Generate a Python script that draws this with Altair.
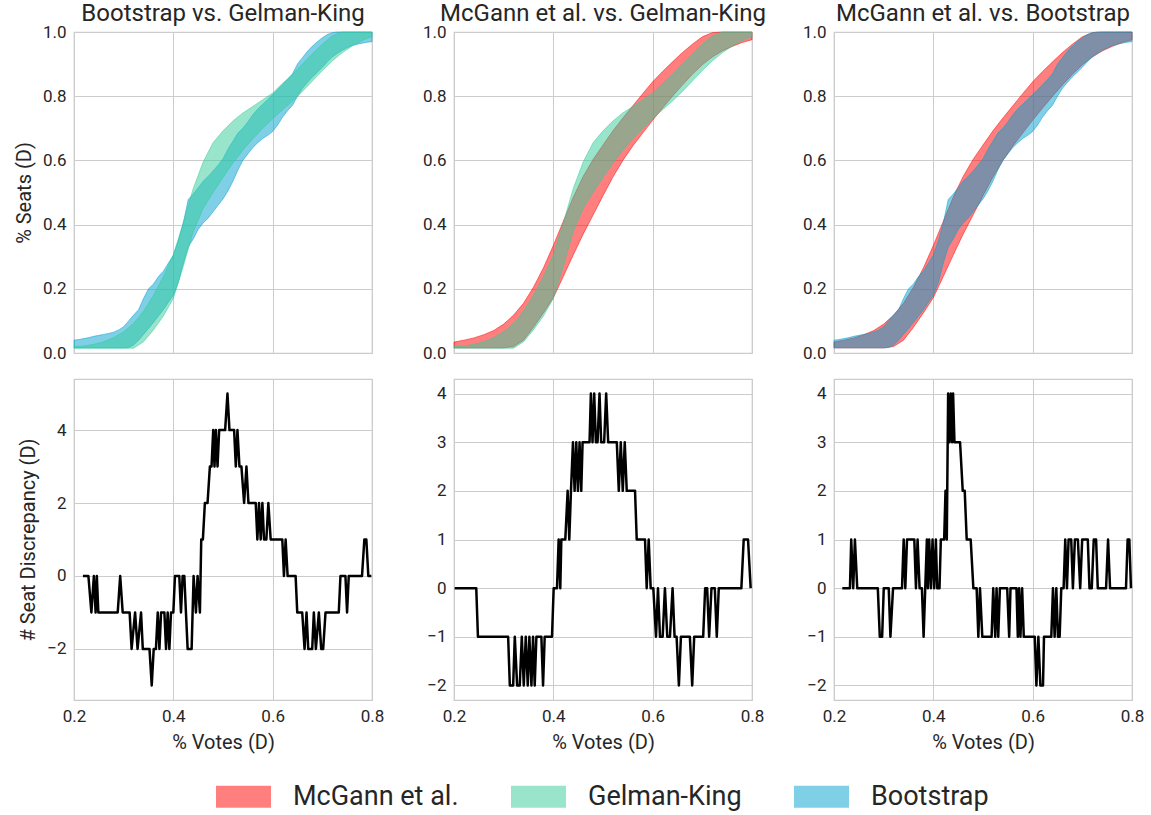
import altair as alt
import pandas as pd

FONT = "Roboto"
TEXT = "#262626"
GRID = "#cccccc"

# ---- seat-vote bands -------------------------------------------------------
models = ["McGann et al.", "Gelman-King", "Bootstrap"]
model_colors = ["#ff0000", "#33cc99", "#00a0d0"]

grid_votes = [0.20, 0.22, 0.24, 0.26, 0.28, 0.30, 0.32, 0.34, 0.36, 0.38,
              0.40, 0.42, 0.44, 0.46, 0.48, 0.50, 0.52, 0.54, 0.56, 0.58,
              0.60, 0.62, 0.64, 0.66, 0.68, 0.70, 0.72, 0.74, 0.76, 0.78, 0.80]

mcgann_high = [0.034, 0.040, 0.047, 0.057, 0.070, 0.090, 0.118, 0.155, 0.205, 0.265,
               0.335, 0.410, 0.485, 0.550, 0.603, 0.648, 0.692, 0.732, 0.770, 0.808,
               0.845, 0.877, 0.907, 0.936, 0.962, 0.985, 0.998, 1.0, 1.0, 1.0, 1.0]
mcgann_low = [0.016, 0.016, 0.016, 0.016, 0.016, 0.016, 0.020, 0.040, 0.080, 0.125,
              0.172, 0.238, 0.305, 0.370, 0.430, 0.490, 0.548, 0.600, 0.645, 0.685,
              0.725, 0.763, 0.800, 0.835, 0.868, 0.898, 0.922, 0.941, 0.955, 0.967, 0.976]

gk_high = [0.020, 0.022, 0.027, 0.035, 0.048, 0.066, 0.092, 0.130, 0.180, 0.238,
           0.305, 0.405, 0.512, 0.595, 0.655, 0.692, 0.723, 0.748, 0.768, 0.789,
           0.810, 0.840, 0.868, 0.900, 0.932, 0.962, 0.988, 1.0, 1.0, 1.0, 1.0]
gk_low = [0.015, 0.015, 0.015, 0.015, 0.015, 0.015, 0.015, 0.035, 0.072, 0.115,
          0.170, 0.270, 0.378, 0.450, 0.500, 0.547, 0.592, 0.632, 0.667, 0.700,
          0.730, 0.758, 0.785, 0.815, 0.847, 0.880, 0.910, 0.935, 0.956, 0.973, 0.986]

boot_votes = [0.20, 0.21, 0.22, 0.23, 0.24, 0.25, 0.26, 0.27, 0.28, 0.29,
              0.30, 0.31, 0.32, 0.33, 0.34, 0.35, 0.36, 0.37, 0.38, 0.39,
              0.40, 0.41, 0.42, 0.43, 0.44, 0.45, 0.46, 0.47, 0.48, 0.49,
              0.50, 0.51, 0.52, 0.53, 0.54, 0.55, 0.56, 0.57, 0.58, 0.59,
              0.60, 0.61, 0.62, 0.63, 0.64, 0.65, 0.66, 0.67, 0.68, 0.69,
              0.70, 0.71, 0.72, 0.73, 0.74, 0.75, 0.76, 0.77, 0.78, 0.79, 0.80]
boot_high = [0.040, 0.042, 0.045, 0.048, 0.052, 0.055, 0.058, 0.061, 0.065, 0.072,
             0.082, 0.100, 0.118, 0.135, 0.170, 0.200, 0.215, 0.238, 0.255, 0.280,
             0.305, 0.350, 0.405, 0.478, 0.495, 0.515, 0.535, 0.550, 0.567, 0.585,
             0.605, 0.635, 0.660, 0.685, 0.700, 0.720, 0.742, 0.760, 0.775, 0.790,
             0.805, 0.820, 0.836, 0.852, 0.870, 0.900, 0.920, 0.940, 0.956, 0.970,
             0.982, 0.992, 0.998, 1.0, 1.0, 1.0, 1.0, 1.0, 1.0, 1.0, 1.0]
boot_low = [0.016, 0.016, 0.016, 0.016, 0.016, 0.016, 0.016, 0.016, 0.016, 0.016,
            0.016, 0.017, 0.025, 0.040, 0.058, 0.076, 0.095, 0.115, 0.135, 0.158,
            0.180, 0.220, 0.280, 0.330, 0.355, 0.385, 0.405, 0.420, 0.440, 0.460,
            0.480, 0.505, 0.535, 0.570, 0.600, 0.620, 0.640, 0.655, 0.668, 0.678,
            0.690, 0.710, 0.735, 0.755, 0.772, 0.800, 0.825, 0.843, 0.860, 0.875,
            0.890, 0.907, 0.922, 0.933, 0.943, 0.951, 0.958, 0.962, 0.965, 0.968, 0.970]

bands = {
    "McGann et al.": (grid_votes, mcgann_low, mcgann_high),
    "Gelman-King": (grid_votes, gk_low, gk_high),
    "Bootstrap": (boot_votes, boot_low, boot_high),
}

# ---- seat discrepancy (first model minus second) --------------------------
d1_votes = [0.218, 0.229, 0.235, 0.240, 0.2435, 0.246, 0.249, 0.288, 0.293, 0.298,
            0.312, 0.316, 0.323, 0.328, 0.335, 0.3385, 0.352, 0.3565, 0.3605, 0.365,
            0.3686, 0.372, 0.3753, 0.382, 0.3853, 0.3886, 0.392, 0.3953, 0.400, 0.4033,
            0.412, 0.4154, 0.4187, 0.4221, 0.4254, 0.4288, 0.4368, 0.4408, 0.4455, 0.4488,
            0.4535, 0.4562, 0.4595, 0.4635, 0.4689, 0.4736, 0.4769, 0.4803, 0.4829, 0.4856,
            0.489, 0.4923, 0.5043, 0.509, 0.513, 0.5224, 0.5258, 0.5291, 0.5331, 0.5371,
            0.5425, 0.5472, 0.5512, 0.5659, 0.5692, 0.5726, 0.5759, 0.5793, 0.5826, 0.5873,
            0.5913, 0.596, 0.6194, 0.6227, 0.6261, 0.6301, 0.6462, 0.6495, 0.6595, 0.6642,
            0.6682, 0.6716, 0.6796, 0.6829, 0.687, 0.693, 0.6977, 0.7017, 0.7064, 0.7331,
            0.7365, 0.7465, 0.7498, 0.7532, 0.7799, 0.7846, 0.7886, 0.7926, 0.7987]
d1_seats = [0, 0, -1, 0, -1, 0, -1, -1, 0, -1,
            -1, -2, -1, -2, -1, -2, -2, -3, -2, -2,
            -1, -2, -1, -1, -2, -1, -2, -1, -1, 0,
            0, -1, 0, 0, -1, -2, -2, 0, -1, 0,
            -1, 1, 1, 2, 2, 3, 3, 4, 3, 4,
            3, 4, 4, 5, 4, 4, 3, 4, 3, 3,
            2, 3, 2, 2, 1, 2, 1, 2, 1, 1,
            2, 1, 1, 0, 1, 0, 0, -1, -1, -2,
            -1, -2, -2, -1, -2, -1, -2, -2, -1, -1,
            0, 0, -1, 0, 0, 1, 1, 0, 0]

d2_votes = [0.2013, 0.2448, 0.2482, 0.309, 0.3124, 0.3191, 0.3224, 0.3271, 0.3324, 0.3365,
            0.3405, 0.3445, 0.3485, 0.3518, 0.3559, 0.3592, 0.3625, 0.3659, 0.3759, 0.3793,
            0.3826, 0.3973, 0.4007, 0.4074, 0.4107, 0.414, 0.4161, 0.4241, 0.4288, 0.4321,
            0.4355, 0.4395, 0.4428, 0.4462, 0.4495, 0.4528, 0.4562, 0.4589, 0.4729, 0.4756,
            0.4789, 0.4823, 0.4856, 0.489, 0.493, 0.4963, 0.5023, 0.5064, 0.5104, 0.5278,
            0.5318, 0.5358, 0.5398, 0.5438, 0.5478, 0.5645, 0.5679, 0.5846, 0.588, 0.592,
            0.596, 0.6013, 0.6067, 0.6107, 0.6147, 0.6201, 0.6247, 0.6294, 0.6348, 0.6401,
            0.6441, 0.6482, 0.6528, 0.6569, 0.6749, 0.6796, 0.6836, 0.7017, 0.7057, 0.7097,
            0.7137, 0.7184, 0.7251, 0.7291, 0.7331, 0.7786, 0.7833, 0.792, 0.7973]
d2_seats = [0, 0, -1, -1, -2, -2, -1, -2, -2, -1,
            -2, -1, -2, -1, -2, -1, -2, -1, -1, -2,
            -1, -1, 0, 0, 1, 0, 1, 1, 2, 1,
            2, 3, 2, 3, 2, 3, 2, 3, 3, 4,
            3, 4, 3, 3, 4, 3, 3, 4, 3, 3,
            2, 3, 2, 3, 2, 2, 1, 1, 0, 1,
            0, 0, -1, 0, -1, -1, 0, -1, -1, 0,
            -1, -1, -2, -1, -1, -2, -1, -1, 0, 0,
            -1, 0, 0, -1, 0, 0, 1, 1, 0]

d3_votes = [0.2167, 0.2321, 0.2347, 0.2387, 0.2421, 0.2468, 0.2882, 0.2922, 0.2969, 0.3002,
            0.3102, 0.3136, 0.3189, 0.3369, 0.3403, 0.3436, 0.347, 0.3617, 0.365, 0.3683,
            0.3723, 0.377, 0.3804, 0.3837, 0.387, 0.389, 0.3917, 0.3951, 0.3984, 0.4017,
            0.4051, 0.4078, 0.4124, 0.4151, 0.4218, 0.4245, 0.4271, 0.4298, 0.4325, 0.4351,
            0.4378, 0.4398, 0.4425, 0.4538, 0.4592, 0.4632, 0.4672, 0.4752, 0.4806, 0.4872,
            0.4906, 0.4939, 0.4986, 0.5173, 0.5206, 0.5246, 0.5273, 0.5307, 0.534, 0.5487,
            0.5527, 0.5554, 0.5674, 0.5701, 0.5727, 0.5754, 0.5788, 0.5821, 0.6042, 0.6075,
            0.6115, 0.6155, 0.6208, 0.6228, 0.6375, 0.6409, 0.6442, 0.6476, 0.6509, 0.6543,
            0.6576, 0.6623, 0.6656, 0.669, 0.6723, 0.6776, 0.681, 0.685, 0.691, 0.6957,
            0.6997, 0.711, 0.7144, 0.719, 0.723, 0.7277, 0.7311, 0.7478, 0.7518, 0.7558,
            0.7879, 0.7912, 0.7946, 0.7979]
d3_seats = [0, 0, 1, 0, 1, 0, 0, -1, -1, 0,
            0, -1, 0, 0, 1, 0, 1, 1, 0, 1,
            0, 0, -1, 0, 1, 0, 1, 0, 1, 0,
            1, 0, 0, 1, 1, 2, 1, 4, 3, 4,
            3, 4, 3, 3, 2, 2, 1, 1, 0, 0,
            -1, 0, -1, -1, 0, -1, 0, -1, 0, 0,
            -1, 0, 0, -1, 0, -1, 0, -1, -1, -2,
            -1, -2, -2, -1, -1, 0, -1, 0, -1, -1,
            0, 0, 1, 0, 1, 1, 0, 1, 1, 0,
            1, 1, 0, 0, 1, 1, 0, 0, 1, 0,
            0, 1, 1, 0]

panels = [
    ("Bootstrap vs. Gelman-King", "Bootstrap", "Gelman-King", d1_votes, d1_seats,
     [-3.4, 5.4], [-2, 0, 2, 4]),
    ("McGann et al. vs. Gelman-King", "McGann et al.", "Gelman-King", d2_votes, d2_seats,
     [-2.3, 4.3], [-2, -1, 0, 1, 2, 3, 4]),
    ("McGann et al. vs. Bootstrap", "McGann et al.", "Bootstrap", d3_votes, d3_seats,
     [-2.3, 4.3], [-2, -1, 0, 1, 2, 3, 4]),
]

W, H = 298, 321
vote_ticks = [0.2, 0.4, 0.6, 0.8]
seat_ticks = [0.0, 0.2, 0.4, 0.6, 0.8, 1.0]
x_scale = alt.Scale(domain=[0.2, 0.8], nice=False, zero=False)

color_scale = alt.Scale(domain=models, range=model_colors)
legend = alt.Legend(
    orient="none", legendX=142, legendY=737, direction="horizontal", title=None,
    symbolType="M-1,-0.4H1V0.4H-1Z", symbolSize=3025, symbolOpacity=0.5,
    symbolStrokeWidth=0, labelFontSize=27, labelFont=FONT, labelColor=TEXT,
    labelOffset=22, columnPadding=52, labelLimit=400,
)


def band(model, first_col):
    votes, low, high = bands[model]
    df = pd.DataFrame({"votes": votes, "low": low, "high": high, "model": model})
    col = model_colors[models.index(model)]
    return alt.Chart(df).mark_area(
        fillOpacity=0.5, stroke=col, strokeOpacity=0.5, strokeWidth=1
    ).encode(
        x=alt.X("votes:Q", scale=x_scale,
                axis=alt.Axis(values=vote_ticks, labels=False, title=None, grid=True)),
        y=alt.Y("low:Q", scale=alt.Scale(domain=[0, 1], nice=False),
                axis=alt.Axis(values=seat_ticks, format=".1f",
                              title="% Seats (D)" if first_col else None)),
        y2="high:Q",
        color=alt.Color("model:N", scale=color_scale, legend=legend),
    )


top_row, bottom_row = [], []
for i, (title, m_a, m_b, dv, ds, ydom, yticks) in enumerate(panels):
    first = i == 0
    top = alt.layer(band(m_a, first), band(m_b, first)).properties(
        width=W, height=H, title=title
    )
    top_row.append(top)

    ddf = pd.DataFrame({"votes": dv, "seats": ds})
    bot = alt.Chart(ddf).mark_line(
        color="black", strokeWidth=2.5, strokeJoin="round"
    ).encode(
        x=alt.X("votes:Q", scale=x_scale,
                axis=alt.Axis(values=vote_ticks, format=".1f", labelFlush=False,
                              title="% Votes (D)")),
        y=alt.Y("seats:Q", scale=alt.Scale(domain=ydom, nice=False, zero=False),
                axis=alt.Axis(values=yticks, format="d",
                              title="# Seat Discrepancy (D)" if first else None)),
    ).properties(width=W, height=H)
    bottom_row.append(bot)

chart = alt.concat(*top_row, *bottom_row, columns=3).properties(
    spacing={"row": 26, "column": 82},
    bounds="flush",
    padding={"left": 13, "top": 1, "right": 5, "bottom": 5},
    background="white",
).resolve_scale(
    x="independent", y="independent", color="shared"
).configure_view(
    stroke=GRID, strokeWidth=1.25
).configure_axis(
    gridColor=GRID, gridWidth=1, domain=False, ticks=False, labelFlush=False,
    labelFont=FONT, labelFontSize=17, labelColor=TEXT, labelPadding=8,
    titleFont=FONT, titleFontSize=20, titleFontWeight="normal", titleColor=TEXT,
    titlePadding=8,
).configure_title(
    font=FONT, fontSize=24, fontWeight="normal", color=TEXT,
    baseline="alphabetic", offset=-3
)

chart.save("out.html", embed_options={"renderer": "svg", "actions": False})
